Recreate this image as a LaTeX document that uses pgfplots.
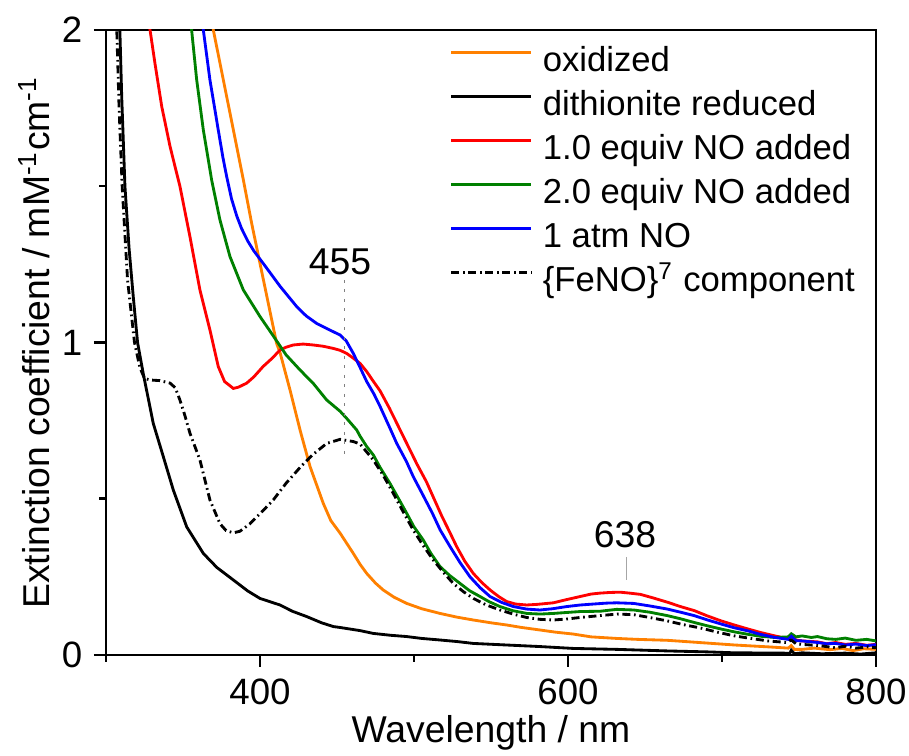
\documentclass[border=0pt]{standalone}
\usepackage{fontspec}
\setmainfont{Liberation Sans}
\usepackage{pgfplots}
\pgfplotsset{compat=1.18}
\usepackage{pgfplotstable}

\definecolor{cOrange}{RGB}{255,128,0}
\definecolor{cGreen}{RGB}{0,128,0}
\definecolor{cRed}{RGB}{255,0,0}
\definecolor{cBlue}{RGB}{0,0,255}

\pgfplotstableread{
x y
365 2.16
369.7 2.0
376.2 1.84
382.7 1.68
389.2 1.52
394.6 1.381
400 1.253
405.4 1.125
410.8 0.997
413 0.968
419.5 0.848
426 0.72
432.5 0.603
441.1 0.485
446 0.43
452 0.39
460.6 0.325
465 0.29
469.3 0.261
475 0.23
480 0.208
487 0.185
495.3 0.165
505 0.148
516.9 0.133
528 0.121
538.5 0.112
550 0.103
560.2 0.096
570 0.088
581.8 0.08
592 0.073
603.4 0.067
615 0.058
631.6 0.053
645 0.05
664.5 0.047
685 0.04
708.2 0.032
730 0.026
743 0.022
745 0.030
747 0.018
752 0.018
760 0.022
770 0.017
778 0.021
785 0.014
792 0.020
800 0.018
}\tOx

\pgfplotstableread{
x y
308 2.05
309 2.0
310.2 1.787
312.3 1.5
315 1.3
317.7 1.147
320.5 1.0
324.2 0.90
330.7 0.741
337.2 0.635
343.7 0.528
352.4 0.41
363.2 0.325
372 0.28
382.7 0.24
392 0.205
400 0.181
413 0.16
421 0.14
430.3 0.123
440 0.103
447.6 0.091
452 0.088
465 0.078
473.6 0.069
485 0.063
495.3 0.059
505 0.053
516.9 0.048
528 0.043
538.5 0.037
560 0.032
581.8 0.027
603.4 0.021
631.6 0.018
664.5 0.013
690 0.01
708.2 0.007
740 0.006
744 0.005
745 0.015
747 0.004
752 0.007
765 0.004
780 0.006
790 0.003
800 0.007
}\tRed

\pgfplotstableread{
x y
306.5 2.05
307 2.0
308.5 1.75
310.5 1.5
314 1.2
318.5 1.0
322 0.92
325 0.885
328.6 0.88
335 0.878
341.6 0.87
345 0.855
348 0.816
351 0.77
354.5 0.71
361 0.624
367.5 0.496
374 0.42
378 0.398
382.7 0.391
387 0.396
393.5 0.42
400 0.452
408.6 0.496
417 0.55
426 0.60
434 0.64
443.3 0.677
452 0.69
460.6 0.683
465 0.675
473.6 0.624
480 0.575
486.6 0.517
493 0.458
499.5 0.40
506 0.35
512.5 0.304
519 0.265
525.5 0.229
532 0.203
538.5 0.181
547 0.16
555.8 0.144
565 0.13
573.2 0.12
582 0.114
590.5 0.112
599 0.115
607.8 0.12
620.8 0.126
632 0.131
642.7 0.129
653 0.12
664.5 0.109
675 0.097
686.4 0.086
697 0.073
708.2 0.061
720 0.052
730 0.045
742 0.04
745 0.048
748 0.036
752 0.034
763 0.03
773.8 0.023
780 0.028
787 0.022
795 0.026
800 0.023
}\tFeNO

\pgfplotstableread{
x y
327 2.05
328.6 2.0
331.8 1.893
336.2 1.755
341.6 1.627
348 1.5
354.5 1.339
361 1.168
367.5 1.04
372.9 0.923
377 0.875
382.7 0.853
386 0.857
391.4 0.87
396 0.89
402 0.923
408 0.95
413 0.976
417 0.985
421.6 0.992
428 0.995
434.6 0.992
441 0.988
447.6 0.981
452 0.975
456.3 0.965
460 0.952
465 0.933
469.3 0.907
473 0.88
478 0.845
484 0.79
490 0.73
497 0.66
502 0.61
508 0.555
513 0.5
518 0.445
523 0.395
527.7 0.347
533 0.3
538.5 0.261
544 0.232
549.4 0.208
555 0.187
560.2 0.171
566 0.163
573.2 0.16
580 0.162
590.5 0.167
598 0.176
607.8 0.187
615 0.195
620.8 0.198
627 0.2
633.8 0.201
640 0.198
647 0.194
655 0.183
664.5 0.169
673 0.155
682 0.142
690 0.126
699.5 0.109
708 0.096
717 0.083
725 0.072
734.4 0.061
743 0.052
745 0.062
748 0.048
752 0.045
762 0.042
768 0.036
773.8 0.04
780 0.034
787 0.037
794 0.031
800 0.034
}\tOne

\pgfplotstableread{
x y
355 2.05
355.6 2.0
358.9 1.84
363.2 1.68
368.6 1.52
374 1.392
380.5 1.275
389.2 1.168
400 1.083
406 1.04
411.5 1.0
417 0.96
426 0.912
434.6 0.869
443.3 0.816
452 0.78
456.3 0.757
462.8 0.72
465 0.70
469.3 0.667
473.6 0.64
478 0.6
484.4 0.549
490 0.5
495.3 0.453
500 0.41
506 0.368
511 0.325
516.9 0.283
523 0.255
529.9 0.229
536 0.206
542.9 0.187
549 0.17
555.8 0.155
564 0.142
573.2 0.133
582 0.131
590.5 0.133
599 0.136
607.8 0.139
620.8 0.14
631.6 0.146
642.7 0.144
653 0.137
664.5 0.126
673 0.116
682 0.104
690 0.094
699.5 0.083
708 0.074
717 0.066
725 0.06
734.4 0.056
743 0.058
745 0.068
748 0.058
752 0.061
758 0.056
762 0.059
768 0.052
773.8 0.05
780 0.054
787 0.047
794 0.05
800 0.045
}\tTwo

\pgfplotstableread{
x y
362 2.05
363.2 2.0
367.5 1.84
372.9 1.68
376 1.59
378.4 1.53
381.5 1.46
384.9 1.405
388 1.365
392 1.325
396 1.293
402.1 1.253
413 1.18
423.8 1.115
430 1.085
436.8 1.061
444 1.043
452 1.024
456 1.005
460.6 0.965
465 0.92
469.3 0.875
474 0.835
478 0.795
484 0.73
488.8 0.677
495 0.62
499.5 0.571
506 0.51
512 0.453
517 0.4
523.4 0.347
530 0.295
536.4 0.25
543 0.215
549.4 0.187
557 0.168
564.5 0.155
573 0.147
581.8 0.144
590 0.148
599.2 0.155
608 0.16
616.4 0.163
625 0.166
631.6 0.167
642.7 0.165
653 0.157
664.5 0.147
673 0.137
682 0.126
690 0.113
699.5 0.099
708 0.087
717 0.077
725 0.066
734.4 0.056
743 0.05
745 0.06
748 0.046
752 0.045
762 0.04
768 0.036
773.8 0.037
780 0.032
787 0.035
794 0.03
800 0.033
}\tAtm

\begin{document}
\begin{tikzpicture}
\begin{axis}[
  at={(0,0)}, anchor=south west,
  scale only axis, width=231pt, height=187.5pt,
  xmin=300, xmax=800, ymin=0, ymax=2,
  xtick={400,600,800}, minor xtick={300,500,700},
  ytick={0,1,2}, minor ytick={0.5,1.5},
  tick pos=left, tick align=outside,
  major tick length=3.6pt, minor tick length=2pt,
  tick style={black, line width=0.75pt},
  axis line style={line width=0.75pt},
  /pgf/number format/assume math mode=true,
  tick label style={font=\fontsize{11}{13}\selectfont},
  label style={font=\fontsize{11.2}{13}\selectfont},
  xlabel={Wavelength / nm},
  ylabel={Extinction coefficient / mM\textsuperscript{-1}cm\textsuperscript{-1}},
  xlabel style={at={(axis description cs:0.5,-0.125)}, anchor=center},
  ylabel style={at={(axis description cs:-0.093,0.5)}, anchor=center},
  legend cell align=left,
  legend style={draw=none, fill=none, at={(axis description cs:0.4468,0.9837)}, anchor=north west,
    inner sep=0pt, outer sep=0pt, row sep=0pt, column sep=3pt,
    font=\fontsize{10.4}{12}\selectfont,
    nodes={inner sep=0pt, text height=9.45pt, text depth=3.75pt}},
  legend image code/.code={\draw[#1] (0pt,2.85pt) -- (24pt,2.85pt);},
  every axis plot/.append style={line width=0.85pt},
]
\addplot[cOrange] table {\tOx}; \addlegendentry{oxidized}
\addplot[black] table {\tRed}; \addlegendentry{dithionite reduced}
\addplot[cRed] table {\tOne}; \addlegendentry{1.0 equiv NO added}
\addplot[cGreen] table {\tTwo}; \addlegendentry{2.0 equiv NO added}
\addplot[cBlue] table {\tAtm}; \addlegendentry{1 atm NO}
\addplot[black, dash pattern=on 2.4pt off 1.1pt on 0.5pt off 1.1pt] table {\tFeNO}; \addlegendentry{\{FeNO\}\textsuperscript{7} component}
\addplot[gray, dotted, line width=0.4pt, forget plot] coordinates {(455,1.2) (455,0.624)};
\addplot[gray!70, line width=0.5pt, forget plot] coordinates {(638,0.314) (638,0.24)};
\node[font=\fontsize{11.2}{13}\selectfont] at (axis cs:452,1.258) {455};
\node[font=\fontsize{11.2}{13}\selectfont] at (axis cs:637,0.384) {638};
\end{axis}
\pgfresetboundingbox
\useasboundingbox (-31.8pt,-30.3pt) rectangle (240.9pt,196.5pt);
\end{tikzpicture}
\end{document}
